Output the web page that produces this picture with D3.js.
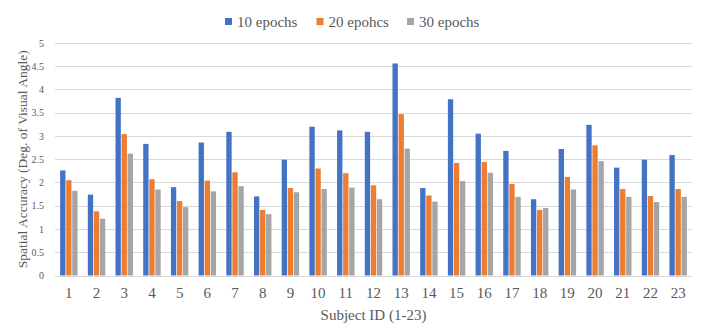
<!DOCTYPE html>
<html>
<head>
<meta charset="utf-8">
<script src="https://cdn.jsdelivr.net/npm/d3@7"></script>
<style>
  body { margin: 0; background: #fff; }
  text { font-family: "Liberation Serif", "Times New Roman", serif; }
</style>
</head>
<body>
<svg id="chart" width="706" height="331"></svg>
<script>
var subjects = d3.range(1, 24).map(String);
var seriesNames = ["10 epochs", "20 epohcs", "30 epochs"];
var epochs10 = [2.26, 1.74, 3.82, 2.83, 1.90, 2.86, 3.09, 1.70, 2.49, 3.20, 3.12, 3.09, 4.56, 1.88, 3.79, 3.05, 2.68, 1.64, 2.72, 3.24, 2.32, 2.49, 2.59];
var epochs20 = [2.05, 1.38, 3.04, 2.07, 1.60, 2.04, 2.22, 1.41, 1.88, 2.30, 2.20, 1.94, 3.47, 1.72, 2.42, 2.44, 1.97, 1.41, 2.12, 2.80, 1.86, 1.71, 1.86];
var epochs30 = [1.82, 1.22, 2.62, 1.85, 1.47, 1.81, 1.92, 1.32, 1.79, 1.86, 1.89, 1.64, 2.73, 1.59, 2.03, 2.21, 1.69, 1.45, 1.85, 2.46, 1.69, 1.58, 1.69];
var yTicks = d3.range(0, 5.01, 0.5);
var colors = ["#4472C4", "#ED7D31", "#A5A5A5"];

var series = [epochs10, epochs20, epochs30];

var svg = d3.select("#chart"),
    plotLeft = 55, plotRight = 692, plotTop = 43, plotBottom = 275.5;

var x = d3.scaleBand().domain(subjects).range([plotLeft, plotRight]).paddingInner(0.37).paddingOuter(0.185);
var xs = d3.scaleBand().domain(d3.range(3)).range([0, x.bandwidth()]).paddingInner(0.12);
var y = d3.scaleLinear().domain([0, 5]).range([plotBottom, plotTop]);

// gridlines
svg.append("g")
    .selectAll("line")
    .data(yTicks)
    .enter().append("line")
    .attr("x1", plotLeft).attr("x2", plotRight)
    .attr("y1", function (d) { return Math.round(y(d)) + 0.5; })
    .attr("y2", function (d) { return Math.round(y(d)) + 0.5; })
    .attr("stroke", "#d9d9d9")
    .attr("stroke-width", 1);

// bars
var groups = svg.append("g")
    .selectAll("g")
    .data(series)
    .enter().append("g")
    .attr("fill", function (d, i) { return colors[i]; });

groups.each(function (vals, si) {
    d3.select(this).selectAll("rect")
        .data(vals)
        .enter().append("rect")
        .attr("x", function (d, i) { return x(subjects[i]) + xs(si); })
        .attr("width", xs.bandwidth())
        .attr("y", function (d) { return y(d); })
        .attr("height", function (d) { return y(0) - y(d); });
});

// y axis labels
var yAxis = svg.append("g")
    .attr("transform", "translate(" + (plotLeft - 8) + ",0)")
    .call(d3.axisLeft(y).tickValues(yTicks).tickSize(0).tickFormat(d3.format("")));
yAxis.select(".domain").remove();
yAxis.selectAll("text")
    .attr("fill", "#595959")
    .style("font-size", "10px")
    .style("font-family", "Liberation Serif");

// x axis labels
var xAxis = svg.append("g")
    .attr("transform", "translate(0," + plotBottom + ")")
    .call(d3.axisBottom(x).tickSize(0).tickPadding(12));
xAxis.select(".domain").remove();
xAxis.selectAll("text")
    .attr("fill", "#595959")
    .style("font-size", "15px")
    .style("font-family", "Liberation Serif");

// axis titles
svg.append("text")
    .attr("x", (plotLeft + plotRight) / 2)
    .attr("y", 320)
    .attr("text-anchor", "middle")
    .attr("fill", "#595959")
    .style("font-size", "15px")
    .text("Subject ID (1-23)");

svg.append("text")
    .attr("transform", "translate(27," + ((plotTop + plotBottom) / 2) + ") rotate(-90)")
    .attr("text-anchor", "middle")
    .attr("fill", "#595959")
    .style("font-size", "13.5px")
    .text("Spatial Accuracy (Deg. of Visual Angle)");

// legend
var legendX = [225, 316.5, 407];
var legend = svg.append("g")
    .selectAll("g")
    .data(seriesNames)
    .enter().append("g")
    .attr("transform", function (d, i) { return "translate(" + legendX[i] + ",0)"; });
legend.append("rect")
    .attr("x", 0).attr("y", 18)
    .attr("width", 7).attr("height", 7)
    .attr("fill", function (d, i) { return colors[i]; });
legend.append("text")
    .attr("x", 12).attr("y", 27)
    .attr("fill", "#595959")
    .style("font-size", "15px")
    .text(function (d) { return d; });
</script>
</body>
</html>
